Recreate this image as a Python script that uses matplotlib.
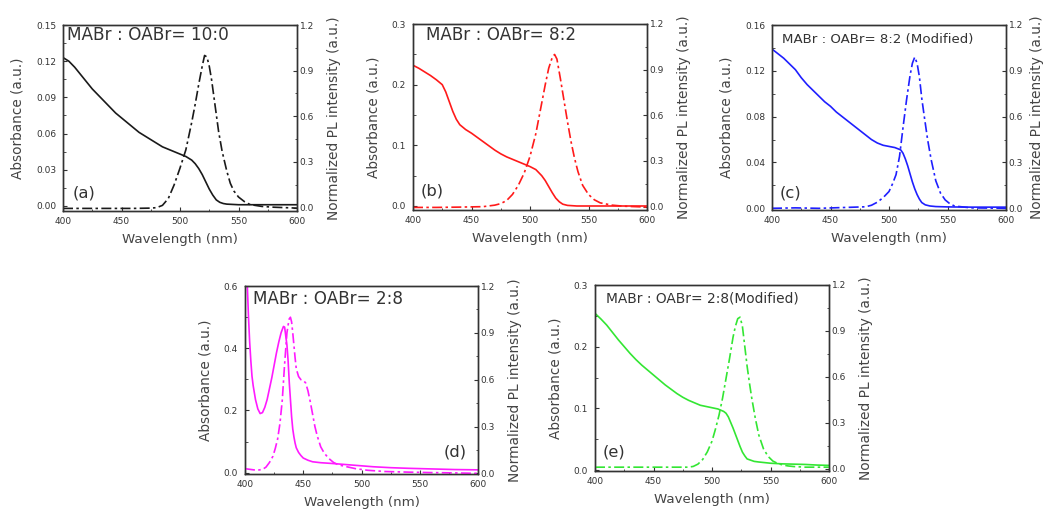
import matplotlib
matplotlib.use("Agg")
import matplotlib.pyplot as plt
from matplotlib.ticker import FormatStrFormatter, MultipleLocator
import numpy as np

plt.rcParams["font.family"] = ["DejaVu Sans"]

INK = "#333333"

# (a) MABr : OABr = 10:0
a_abs_wl = [400, 405, 410, 415, 420, 425, 430, 435, 440, 445, 450, 455, 460, 465, 470, 475, 480, 485,
            490, 495, 500, 505, 510, 513, 516, 519, 522, 525, 528, 531, 534, 537, 540, 550, 560, 580, 600]
a_abs = [0.123, 0.120, 0.115, 0.109, 0.103, 0.097, 0.092, 0.087, 0.082, 0.077, 0.073, 0.069, 0.065,
         0.061, 0.058, 0.055, 0.052, 0.049, 0.047, 0.045, 0.043, 0.041, 0.038, 0.035, 0.031, 0.026,
         0.020, 0.014, 0.009, 0.005, 0.003, 0.002, 0.0015, 0.001, 0.001, 0.001, 0.001]
a_pl_wl = [400, 420, 440, 460, 475, 480, 485, 490, 495, 500, 505, 510, 513, 516, 519, 521, 523, 525,
           527, 530, 533, 536, 540, 543, 546, 550, 555, 560, 570, 580, 600]
a_pl = [-0.005, -0.005, -0.005, -0.005, -0.003, 0.0, 0.015, 0.06, 0.15, 0.26, 0.38, 0.56, 0.68, 0.81,
        0.93, 1.0, 0.99, 0.93, 0.84, 0.67, 0.50, 0.37, 0.24, 0.16, 0.11, 0.07, 0.04, 0.02, 0.008,
        0.003, -0.003]

# (b) MABr : OABr = 8:2
b_abs_wl = [400, 405, 410, 415, 420, 425, 428, 431, 434, 437, 440, 445, 450, 455, 460, 465, 470, 475,
            480, 485, 490, 495, 500, 505, 510, 513, 516, 519, 522, 525, 528, 532, 540, 560, 580, 600]
b_abs = [0.232, 0.227, 0.221, 0.215, 0.208, 0.200, 0.188, 0.172, 0.156, 0.143, 0.134, 0.126, 0.120,
         0.113, 0.106, 0.099, 0.092, 0.086, 0.081, 0.077, 0.073, 0.069, 0.065, 0.060, 0.050, 0.042,
         0.032, 0.022, 0.013, 0.007, 0.003, 0.001, 0.0, 0.0, 0.0, 0.0]
b_pl_wl = [400, 420, 440, 460, 470, 475, 480, 485, 490, 495, 500, 505, 510, 513, 516, 519, 521, 523,
           526, 529, 532, 535, 538, 541, 545, 550, 555, 560, 570, 580, 600]
b_pl = [-0.005, -0.005, -0.003, 0.0, 0.01, 0.02, 0.04, 0.08, 0.14, 0.22, 0.33, 0.48, 0.68, 0.80, 0.91,
        0.98, 1.0, 0.97, 0.84, 0.70, 0.56, 0.43, 0.32, 0.23, 0.14, 0.08, 0.045, 0.025, 0.01, 0.003,
        -0.003]

# (c) MABr : OABr = 8:2 (Modified)
c_abs_wl = [400, 405, 410, 415, 420, 425, 430, 435, 440, 445, 450, 455, 460, 465, 470, 475, 480, 485,
            490, 495, 500, 505, 510, 512, 514, 516, 518, 520, 522, 524, 526, 528, 531, 535, 540, 550,
            570, 600]
c_abs = [0.139, 0.135, 0.131, 0.126, 0.121, 0.114, 0.108, 0.103, 0.098, 0.093, 0.089, 0.084, 0.080,
         0.076, 0.072, 0.068, 0.064, 0.060, 0.057, 0.055, 0.054, 0.053, 0.051, 0.048, 0.043, 0.037,
         0.030, 0.023, 0.017, 0.012, 0.008, 0.005, 0.003, 0.002, 0.0015, 0.0012, 0.001, 0.001]
c_pl_wl = [400, 420, 440, 460, 480, 485, 490, 495, 500, 503, 506, 509, 512, 515, 518, 520, 522, 524,
           526, 528, 530, 533, 536, 540, 544, 548, 552, 556, 562, 570, 600]
c_pl = [0.0, 0.003, 0.0, 0.005, 0.01, 0.02, 0.04, 0.07, 0.11, 0.16, 0.22, 0.34, 0.53, 0.71, 0.87, 0.95,
        0.99, 0.95, 0.86, 0.72, 0.61, 0.45, 0.32, 0.18, 0.10, 0.055, 0.03, 0.015, 0.01, 0.003, 0.0]

# (d) MABr : OABr = 2:8
d_abs_wl = [400, 401, 402, 403, 404, 405, 406, 407, 409, 411, 413, 415, 417, 419, 421, 423, 425, 427,
            429, 431, 433, 434, 436, 437, 438, 439, 440, 441, 442, 443, 444, 446, 448, 450, 454, 458,
            465, 473, 480, 490, 500, 510, 525, 540, 560, 580, 600]
d_abs = [0.75, 0.68, 0.60, 0.50, 0.42, 0.36, 0.31, 0.28, 0.235, 0.205, 0.19, 0.193, 0.21, 0.235, 0.27,
         0.305, 0.345, 0.385, 0.42, 0.45, 0.47, 0.468, 0.41, 0.36, 0.29, 0.235, 0.18, 0.14, 0.115,
         0.095, 0.08, 0.065, 0.055, 0.047, 0.04, 0.035, 0.032, 0.03, 0.028, 0.025, 0.022, 0.019,
         0.016, 0.014, 0.012, 0.01, 0.009]
d_pl_wl = [400, 405, 410, 415, 418, 421, 424, 426, 428, 430, 432, 434, 436, 437, 438, 439, 440, 441,
           442, 443, 444, 446, 448, 450, 452, 454, 456, 458, 460, 462, 465, 468, 472, 476, 480, 487,
           495, 505, 520, 540, 560, 580, 600]
d_pl = [0.03, 0.025, 0.02, 0.025, 0.04, 0.07, 0.11, 0.16, 0.22, 0.32, 0.47, 0.70, 0.90, 0.95, 0.99,
        1.0, 0.97, 0.90, 0.82, 0.74, 0.67, 0.62, 0.60, 0.595, 0.58, 0.53, 0.46, 0.38, 0.30, 0.24,
        0.17, 0.13, 0.095, 0.07, 0.055, 0.043, 0.03, 0.02, 0.012, 0.008, 0.005, 0.003, 0.0]

# (e) MABr : OABr = 2:8 (Modified)
e_abs_wl = [400, 405, 410, 415, 420, 425, 430, 435, 440, 445, 450, 455, 460, 465, 470, 475, 480, 485,
            490, 495, 500, 505, 510, 512, 514, 516, 518, 520, 522, 524, 526, 528, 530, 533, 536, 540,
            550, 560, 570, 580, 590, 600]
e_abs = [0.254, 0.245, 0.235, 0.223, 0.211, 0.200, 0.189, 0.179, 0.170, 0.162, 0.154, 0.146, 0.138,
         0.131, 0.124, 0.118, 0.113, 0.109, 0.105, 0.103, 0.101, 0.099, 0.095, 0.092, 0.086, 0.077,
         0.068, 0.058, 0.048, 0.038, 0.029, 0.023, 0.018, 0.016, 0.014, 0.013, 0.011, 0.010, 0.0095,
         0.009, 0.008, 0.0075]
e_pl_wl = [400, 420, 440, 460, 475, 480, 484, 488, 492, 496, 500, 503, 506, 509, 512, 515, 518, 520,
           522, 524, 526, 528, 530, 532, 534, 537, 540, 544, 548, 552, 556, 560, 565, 570, 580, 600]
e_pl = [0.01, 0.01, 0.01, 0.01, 0.01, 0.01, 0.015, 0.03, 0.06, 0.11, 0.18, 0.26, 0.35, 0.46, 0.59,
        0.72, 0.86, 0.93, 0.98, 0.99, 0.93, 0.80, 0.67, 0.56, 0.46, 0.33, 0.22, 0.13, 0.08, 0.05,
        0.035, 0.025, 0.018, 0.014, 0.01, 0.01]

titles = ["MABr : OABr= 10:0", "MABr : OABr= 8:2", "MABr : OABr= 8:2 (Modified)",
          "MABr : OABr= 2:8", "MABr : OABr= 2:8(Modified)"]
tags = ["(a)", "(b)", "(c)", "(d)", "(e)"]
colors = ["#1a1a1a", "#ff1a1a", "#1f1fff", "#ff1aff", "#33e633"]
abs_step = [0.03, 0.1, 0.04, 0.2, 0.1]
abs_top = [0.15, 0.3, 0.16, 0.6, 0.3]
abs_fmt = ["%.2f", "%.1f", "%.2f", "%.1f", "%.1f"]
abs_lim = [(-0.0042, 0.15), (-0.0066, 0.3), (-0.0015, 0.16), (-0.0043, 0.6), (-0.0016, 0.3)]
pl_lim = [(-0.022, 1.2), (-0.022, 1.2), (-0.011, 1.2), (-0.004, 1.2), (-0.015, 1.2)]

# axes rectangles in figure pixels: left, top, width, height
rects_px = [(63, 25, 234, 186), (413, 24, 234, 186), (772, 25, 234, 185),
            (245, 286, 233, 188), (595, 285, 234, 186)]
# title (x, y, size) and tag (x, y, ha) in axes fractions
title_pos = [(0.017, 0.946, 12.2), (0.056, 0.94, 12.1), (0.043, 0.92, 9.6),
             (0.034, 0.93, 12.1), (0.047, 0.93, 9.9)]
tag_pos = [(0.04, 0.097, "left"), (0.034, 0.10, "left"), (0.034, 0.09, "left"),
           (0.95, 0.117, "right"), (0.034, 0.10, "left")]
# right-hand label gap; panel (c) sits against the figure edge
pl_labelpad = [9, 9, 5, 9, 9]

abs_data = [(a_abs_wl, a_abs), (b_abs_wl, b_abs), (c_abs_wl, c_abs), (d_abs_wl, d_abs), (e_abs_wl, e_abs)]
pl_data = [(a_pl_wl, a_pl), (b_pl_wl, b_pl), (c_pl_wl, c_pl), (d_pl_wl, d_pl), (e_pl_wl, e_pl)]

W, H = 1043, 511
fig = plt.figure(figsize=(W / 100, H / 100), dpi=100)

for i in range(5):
    l, t, w, h = rects_px[i]
    ax = fig.add_axes([l / W, 1 - (t + h) / H, w / W, h / H])
    ax2 = ax.twinx()

    ax.plot(*abs_data[i], color=colors[i], lw=1.2)
    ax2.plot(*pl_data[i], color=colors[i], lw=1.2, dashes=(6, 2, 1.5, 2))

    ax.set_xlim(400, 600)
    ax.set_ylim(*abs_lim[i])
    ax2.set_ylim(*pl_lim[i])
    ax.set_xticks([400, 450, 500, 550, 600])
    ax.xaxis.set_minor_locator(MultipleLocator(25))
    ax.set_yticks(np.arange(0, abs_top[i] + 1e-9, abs_step[i]))
    ax.yaxis.set_minor_locator(MultipleLocator(abs_step[i] / 2))
    ax.yaxis.set_major_formatter(FormatStrFormatter(abs_fmt[i]))
    ax2.set_yticks([0.0, 0.3, 0.6, 0.9, 1.2])
    ax2.yaxis.set_minor_locator(MultipleLocator(0.15))
    ax2.yaxis.set_major_formatter(FormatStrFormatter("%.1f"))

    for a in (ax, ax2):
        a.tick_params(which="major", direction="in", length=3, width=0.8, labelsize=6.5,
                      colors=INK, pad=2)
        a.tick_params(which="minor", direction="in", length=1.8, width=0.6, colors=INK)
        for s in a.spines.values():
            s.set_color(INK)
            s.set_linewidth(1.0)
    ax.tick_params(axis="x", which="major", pad=4)
    ax.tick_params(axis="y", which="major", pad=5)

    ax.set_xlabel("Wavelength (nm)", fontsize=9.6, color="#444444", labelpad=5.5)
    ax.set_ylabel("Absorbance (a.u.)", fontsize=9.8, color="#444444", labelpad=8)
    ax2.set_ylabel("Normalized PL intensity (a.u.)", fontsize=9.9, color="#444444",
                   labelpad=pl_labelpad[i])

    tx, ty, ts = title_pos[i]
    ax.text(tx, ty, titles[i], transform=ax.transAxes, fontsize=ts, color=INK,
            ha="left", va="center")
    gx, gy, ha = tag_pos[i]
    ax.text(gx, gy, tags[i], transform=ax.transAxes, fontsize=11.8, color=INK,
            ha=ha, va="center")

fig.savefig("out.png", dpi=100)
